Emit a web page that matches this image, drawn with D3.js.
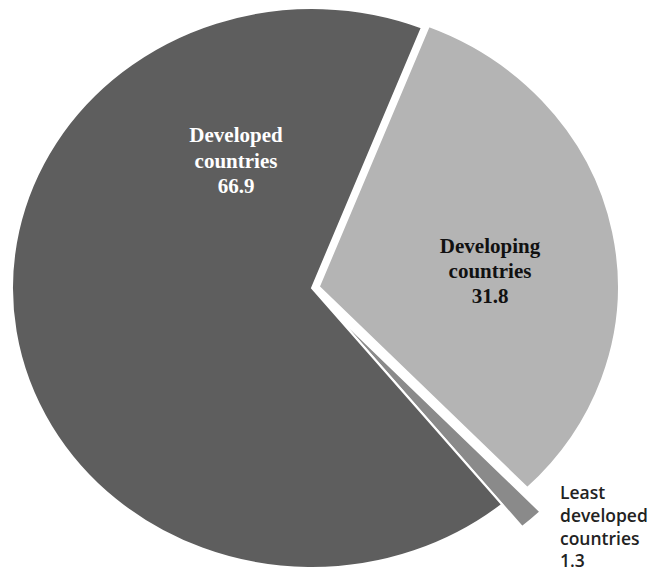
<!DOCTYPE html>
<html>
<head>
<meta charset="utf-8">
<script src="https://cdn.jsdelivr.net/npm/d3@7"></script>
<style>
  body { margin: 0; background: #fff; }
</style>
</head>
<body>
<script>
// data, in drawing order (clockwise from the top boundary)
const categories = ["Developing countries", "Least developed countries", "Developed countries"];
const shares = [31.8, 1.3, 66.9];
const valueLabels = ["31.8", "1.3", "66.9"];

const width = 655, height = 572;
const cx = 312, cy = 288;
const rx = 300, ry = 280;
const startDeg = 21.5;

const colors = ["#b4b4b4", "#8a8a8a", "#5e5e5e"];
const explode = [7, 30, 0];

const svg = d3
  .select("body")
  .append("svg")
  .attr("width", width)
  .attr("height", height);

const pie = d3
  .pie()
  .sort(null)
  .value((d) => d)
  .startAngle((startDeg * Math.PI) / 180)
  .endAngle((startDeg * Math.PI) / 180 + 2 * Math.PI);

const arcs = pie(shares);
const arc = d3.arc().innerRadius(0).outerRadius(ry);

// pie is stretched into an ellipse, like the original
const g = svg
  .append("g")
  .attr("transform", `translate(${cx},${cy}) scale(${rx / ry},1)`);

g.selectAll("path")
  .data(arcs)
  .enter()
  .append("path")
  .attr("d", arc)
  .attr("fill", (d, i) => colors[i])
  .attr("stroke", "#fff")
  .attr("stroke-width", 2)
  .attr("vector-effect", "non-scaling-stroke")
  .attr("transform", (d, i) => {
    const a = (d.startAngle + d.endAngle) / 2;
    const o = explode[i] / (rx / ry);
    return `translate(${Math.sin(a) * o},${-Math.cos(a) * explode[i]})`;
  });

// labels
const labelCfg = [
  { x: 490, y: 253, anchor: "middle", fill: "#111", font: "'Liberation Serif', 'Times New Roman', serif", size: 21, weight: 700, lh: 25 },
  { x: 560, y: 499, anchor: "start", fill: "#222", font: "'Open Sans', 'Liberation Sans', sans-serif", size: 17.5, weight: 600, lh: 22.8 },
  { x: 236, y: 142, anchor: "middle", fill: "#fff", font: "'Liberation Serif', 'Times New Roman', serif", size: 21, weight: 700, lh: 25.5 },
];

function labelLines(i) {
  const name = categories[i];
  if (i === 1) return ["Least", "developed", "countries", valueLabels[i]];
  const parts = name.split(" ");
  return [parts[0], parts[1], valueLabels[i]];
}

categories.forEach((c, i) => {
  const cfg = labelCfg[i];
  const t = svg
    .append("text")
    .attr("x", cfg.x)
    .attr("y", cfg.y)
    .attr("text-anchor", cfg.anchor)
    .attr("fill", cfg.fill)
    .style("font-family", cfg.font)
    .style("font-size", cfg.size + "px")
    .style("font-weight", cfg.weight);
  labelLines(i).forEach((line, k) => {
    t.append("tspan")
      .attr("x", cfg.x)
      .attr("dy", k === 0 ? 0 : cfg.lh)
      .text(line);
  });
});
</script>
</body>
</html>
